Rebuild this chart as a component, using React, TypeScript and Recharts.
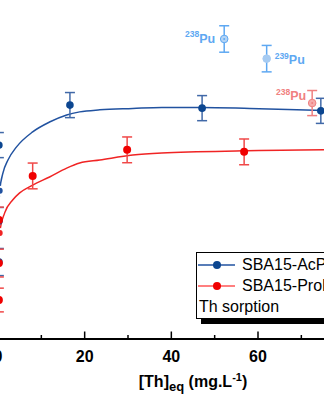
import { ComposedChart, Line, Scatter, ErrorBar, XAxis, YAxis } from 'recharts';

const FONT = '"Liberation Sans", Arial, sans-serif';

// SBA15-AcPhos measured points (x: [Th]eq mg/L, q: uptake)
const acX = [0.2, 0.2, 0.2, 16.6, 47.1, 74.5];
const acQ = [57.2, 34.8, 22.7, 69.0, 68.1, 67.3];
const acErr = [3.7, 4.0, 4.0, 3.7, 3.7, 3.7];

// SBA15-ProPhos measured points
const proX = [0.2, 0.2, 0.2, 8.0, 29.8, 56.8];
const proQ = [35.1, 22.4, 11.5, 48.1, 55.8, 55.2];
const proErr = [3.8, 4.1, 3.5, 3.8, 3.8, 3.8];

// fitted curves
const acFitX = [0, 0.39, 1.15, 2.3, 4.24, 8.0, 11.9, 15.85, 18.85, 23.5, 31.1, 37.8, 47.0, 58.1, 75.2, 90];
const acFitQ = [32.2, 43.7, 49.0, 52.8, 56.6, 61.1, 64.0, 66.1, 67.0, 67.6, 68.0, 68.3, 68.3, 68.0, 67.4, 67.0];
const proFitX = [0, 0.39, 1.54, 3.38, 5.0, 8.0, 11.9, 15.85, 18.85, 23.5, 31.1, 37.8, 56.7, 75.2, 90];
const proFitQ = [20.4, 31.3, 37.2, 41.0, 43.1, 45.4, 47.8, 50.4, 51.9, 52.8, 54.3, 54.9, 55.5, 55.8, 55.8];

// Pu reference points
const puIso = ['238', '239', '238'];
const puX = [52.2, 62.0, 72.5];
const puQ = [88.5, 82.7, 69.6];
const puErr = [3.9, 3.9, 3.7];

const xTicks = [0, 10, 20, 30, 40, 50, 60, 70, 80, 90];
const seriesNames = ['SBA15-AcPhos', 'SBA15-ProPhos'];
const legendTitle = 'Th sorption';

const BLUE = '#0c4690';
const BLUE_LINE = '#2152a0';
const BLUE_ERR = '#4169a8';
const RED = '#f00000';
const RED_LINE = '#f02424';
const RED_ERR = '#f04848';

const PU_STYLES = [
  { color: '#5ea8f2', fill: '#b3d4f6', ring: true, anchor: 'end', dx: -9, dy: 4 },
  { color: '#5ea8f2', fill: '#a6cbf2', ring: false, anchor: 'start', dx: 8, dy: 5.5 },
  { color: '#f08080', fill: '#f6abab', ring: true, anchor: 'end', dx: -6, dy: -3 },
];

const pts = (xs: number[], ys: number[], es?: number[]) =>
  xs.map((x, i) => ({ x, y: ys[i], err: es ? es[i] : 0 }));

const acData = pts(acX, acQ, acErr);
const proData = pts(proX, proQ, proErr);
const acFit = pts(acFitX, acFitQ);
const proFit = pts(proFitX, proFitQ);

function AxisTick({ x, y, payload }: any) {
  const major = payload.value % 20 === 0;
  return (
    <g>
      <line x1={x} x2={x} y1={y} y2={y - (major ? 7.5 : 4)} stroke="#000" strokeWidth={1.5} />
      {major && (
        <text x={x} y={y + 22.5} textAnchor="middle" fontFamily={FONT} fontWeight="bold" fontSize={16} fill="#000">
          {payload.value}
        </text>
      )}
    </g>
  );
}

function AxisTitle({ viewBox }: any) {
  const cx = viewBox.x + viewBox.width / 2;
  return (
    <text x={cx} y={viewBox.y + 47.5} textAnchor="middle" fontFamily={FONT} fontWeight="bold" fontSize={16} fill="#000">
      [Th]
      <tspan fontSize={13} dy={4}>eq</tspan>
      <tspan dy={-4}> (mg.L</tspan>
      <tspan fontSize={11} dy={-6}>-1</tspan>
      <tspan dy={6}>)</tspan>
    </text>
  );
}

const dot = (fill: string, r: number) => (props: any) => (
  <circle cx={props.cx} cy={props.cy} r={r} fill={fill} />
);

const puShape = (i: number) => (props: any) => {
  const s = PU_STYLES[i];
  const { cx, cy } = props;
  return (
    <g>
      <circle cx={cx} cy={cy} r={3.8} fill={s.fill} stroke={s.ring ? s.color : s.fill} strokeWidth={1} />
      {s.ring && <circle cx={cx} cy={cy} r={1} fill={s.color} />}
      <text
        x={cx + s.dx}
        y={cy + s.dy}
        textAnchor={s.anchor as any}
        fontFamily={FONT}
        fontWeight="bold"
        fill={s.color}
      >
        <tspan fontSize={8.5} dy={-5.5}>{puIso[i]}</tspan>
        <tspan fontSize={12.5} dy={5.5}>Pu</tspan>
      </text>
    </g>
  );
};

function LegendBox() {
  const rows = [
    { name: seriesNames[0], line: BLUE_LINE, dot: BLUE, cy: 12 },
    { name: seriesNames[1], line: '#f55', dot: RED, cy: 33 },
  ];
  return (
    <div
      style={{
        position: 'absolute',
        left: 196,
        top: 252,
        width: 180,
        height: 65,
        border: '1px solid #000',
        boxShadow: '5px 5px 0 #000',
        background: '#fff',
        fontFamily: FONT,
        fontSize: 16,
        color: '#000',
      }}
    >
      <svg width={40} height={65} style={{ position: 'absolute', left: 0, top: 0 }}>
        {rows.map((r) => (
          <g key={r.name}>
            <line x1={1} x2={38} y1={r.cy} y2={r.cy} stroke={r.line} strokeWidth={1.5} />
            <circle cx={20} cy={r.cy} r={4} fill={r.dot} />
          </g>
        ))}
      </svg>
      {rows.map((r) => (
        <div key={r.name} style={{ position: 'absolute', left: 45, top: r.cy - 9, lineHeight: '18px', whiteSpace: 'nowrap' }}>
          {r.name}
        </div>
      ))}
      <div style={{ position: 'absolute', left: 2, top: 54 - 9, lineHeight: '18px', whiteSpace: 'nowrap' }}>
        {legendTitle}
      </div>
    </div>
  );
}

export default function App() {
  return (
    <div style={{ position: 'fixed', left: 0, top: 0, width: 324, height: 400, overflow: 'hidden', background: '#fff' }}>
      <div style={{ position: 'absolute', left: -2, top: 0 }}>
        <ComposedChart width={400} height={400} margin={{ top: 0, right: 10, bottom: 0, left: 0 }}>
          <XAxis
            type="number"
            dataKey="x"
            domain={[0, 90]}
            ticks={xTicks}
            interval={0}
            allowDataOverflow
            height={61}
            axisLine={{ stroke: '#000', strokeWidth: 2 }}
            tickLine={false}
            tickSize={0}
            tickMargin={0}
            tick={<AxisTick />}
            label={{ content: <AxisTitle /> }}
          />
          <YAxis type="number" dataKey="y" domain={[0, 100]} hide width={0} />
          <Line data={acFit} dataKey="y" type="monotone" stroke={BLUE_LINE} strokeWidth={1.5} dot={false} isAnimationActive={false} />
          <Line data={proFit} dataKey="y" type="monotone" stroke={RED_LINE} strokeWidth={1.5} dot={false} isAnimationActive={false} />
          <Scatter data={acData} dataKey="y" shape={dot(BLUE, 3.8)} isAnimationActive={false}>
            <ErrorBar dataKey="err" direction="y" width={5} stroke={BLUE_ERR} strokeWidth={1.5} />
          </Scatter>
          <Scatter data={proData} dataKey="y" shape={dot(RED, 4)} isAnimationActive={false}>
            <ErrorBar dataKey="err" direction="y" width={5} stroke={RED_ERR} strokeWidth={1.5} />
          </Scatter>
          {puX.map((x, i) => (
            <Scatter
              key={i}
              data={[{ x, y: puQ[i], err: puErr[i] }]}
              dataKey="y"
              shape={puShape(i)}
              isAnimationActive={false}
            >
              <ErrorBar dataKey="err" direction="y" width={5} stroke={PU_STYLES[i].color} strokeWidth={1.5} />
            </Scatter>
          ))}
        </ComposedChart>
      </div>
      <LegendBox />
    </div>
  );
}
